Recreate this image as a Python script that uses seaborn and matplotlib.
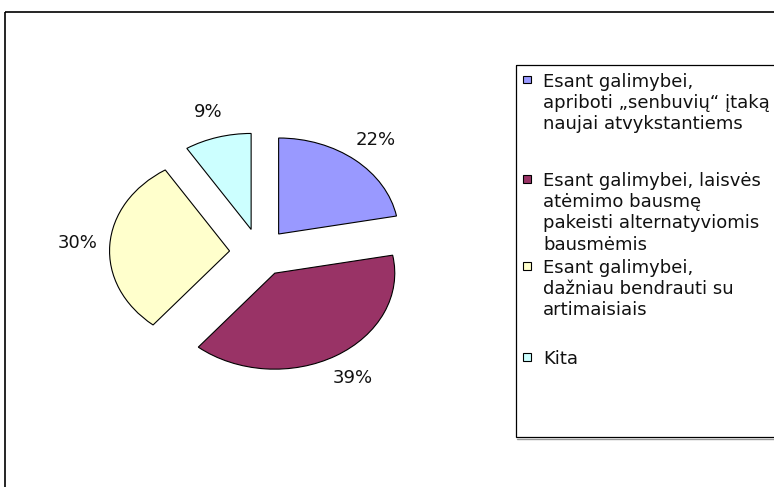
import matplotlib
matplotlib.use("Agg")
import matplotlib.pyplot as plt
from matplotlib.patches import Rectangle
import seaborn as sns

# share of answers (%), drawn clockwise from 12 o'clock
labels = [
    "Esant galimybei,\napriboti „senbuvių“ įtaką\nnaujai atvykstantiems",
    "Esant galimybei, laisvės\natėmimo bausmę\npakeisti alternatyviomis\nbausmėmis",
    "Esant galimybei,\ndažniau bendrauti su\nartimaisiais",
    "Kita",
]
shares = [22, 39, 30, 9]
colors = ["#9999FF", "#993366", "#FFFFCC", "#CCFFFF"]

sns.set_style("white")
plt.rcParams["font.family"] = ["DejaVu Sans"]

W, H = 774, 487
fig = plt.figure(figsize=(W / 100, H / 100), dpi=100)

# pie axes, stretched like the original: 1 unit = 120 px across, 96 px down
cx, cy, rx, ry = 259.5, 252.5, 120, 96
left, right, top, bottom = 20, 500, 40, 470
ax = fig.add_axes([left / W, 1 - bottom / H, (right - left) / W, (bottom - top) / H])
wedges, autotexts = ax.pie(
    shares,
    colors=sns.color_palette(colors),
    explode=[0.25] * len(shares),
    startangle=90,
    counterclock=False,
    autopct="%1.0f%%",
    pctdistance=1.27,
    wedgeprops=dict(edgecolor="black", linewidth=0.8),
    textprops=dict(fontsize=13, color="#111111"),
)[0::2]
ax.set_aspect("auto")
ax.set_xlim((left - cx) / rx, (right - cx) / rx)
ax.set_ylim((cy - bottom) / ry, (cy - top) / ry)
ax.axis("off")

# overlay in pixel coordinates for the frames and the legend
ov = fig.add_axes([0, 0, 1, 1])
ov.set_xlim(0, W)
ov.set_ylim(H, 0)
ov.axis("off")
ov.add_patch(Rectangle((5, 12), W, H, fill=False, ec="black", lw=1.2))
ov.add_patch(Rectangle((515.5, 65), W, 372, fill=False, ec="black", lw=0.9))
ov.plot([517, W], [438.6, 438.6], color="0.6", lw=1)

first_baselines = [86.7, 186, 273, 364]
for lab, col, yb in zip(labels, colors, first_baselines):
    ov.add_patch(Rectangle((523, yb - 11), 8, 7.5, fc=col, ec="black", lw=0.8))
    ov.text(543, yb - 13.7, lab, va="top", ha="left", fontsize=13,
            linespacing=1.22, color="#111111")

fig.savefig("out.png", dpi=100)
